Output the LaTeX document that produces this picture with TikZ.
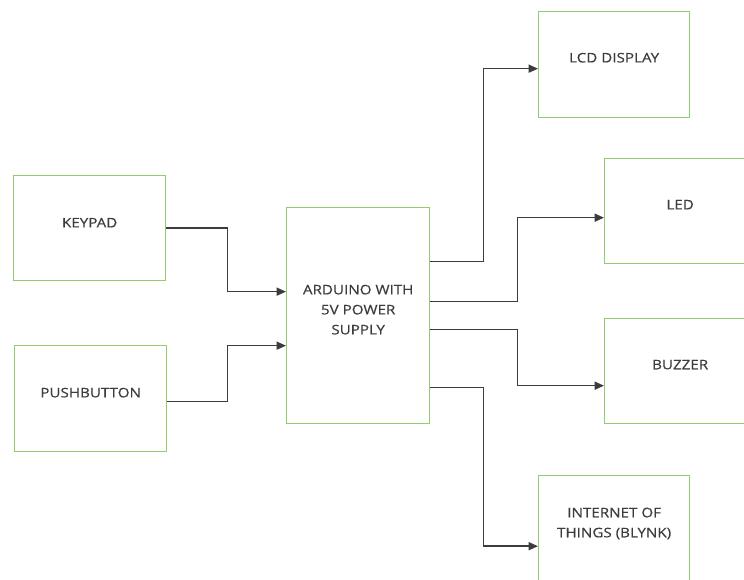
\documentclass[tikz,border=0pt]{standalone}
\usepackage{fontspec}
\setmainfont{Open Sans}[FakeStretch=1.15,FakeBold=0.4]
\usetikzlibrary{arrows.meta}
\definecolor{boxgreen}{RGB}{146,204,108}
\definecolor{txtgray}{RGB}{60,60,60}
\definecolor{linegray}{RGB}{60,60,60}
\tikzset{
  blk/.style={draw=boxgreen, line width=1pt, rectangle, inner sep=0pt, anchor=north west},
  txt/.style={text=txtgray, font=\fontsize{9.9pt}{15pt}\selectfont, align=center, inner sep=0pt},
  conn/.style={draw=linegray, line width=1.1pt, -{Triangle[length=7pt,width=6pt]}},
}
\begin{document}
\begin{tikzpicture}[x=0.75pt,y=-0.75pt]
\useasboundingbox (0,0) rectangle (744,580);
\clip (0,0) rectangle (744,580);
% boxes
\node[blk, minimum width=152*0.75pt, minimum height=105*0.75pt] (keypad) at (13,175) {};
\node[blk, minimum width=152*0.75pt, minimum height=106*0.75pt] (push) at (14,345) {};
\node[blk, minimum width=143*0.75pt, minimum height=216*0.75pt] (ard) at (286,207) {};
\node[blk, minimum width=151*0.75pt, minimum height=106*0.75pt] (lcd) at (538,11) {};
\node[blk, minimum width=151*0.75pt, minimum height=105*0.75pt] (led) at (604,158) {};
\node[blk, minimum width=151*0.75pt, minimum height=105*0.75pt] (buzz) at (604,318) {};
\node[blk, minimum width=151*0.75pt, minimum height=108*0.75pt] (iot) at (538,475) {};
% texts
\node[txt] (tkeypad) at ([yshift=4.1pt]keypad.center) {KEYPAD};
\node[txt] (tpush) at ([yshift=4.5pt]push.center) {PUSHBUTTON};
\node[txt] (tard) at ([yshift=4.5pt]ard.center) {ARDUINO WITH\\5V POWER\\SUPPLY};
\node[txt] (tlcd) at ([yshift=5.2pt]lcd.center) {LCD DISPLAY};
\node[txt] (tled) at ([yshift=4.9pt]led.center) {LED};
\node[txt] (tbuzz) at ([yshift=4.9pt]buzz.center) {BUZZER};
\node[txt] (tiot) at ([yshift=4.6pt]iot.center) {INTERNET OF\\THINGS (BLYNK)};
% connectors
\draw[conn] (keypad.east) -- ++(61,0) |- ([yshift=18pt]ard.west);
\draw[conn] ([yshift=-2.2pt]push.east) -- ++(60,0) |- ([yshift=-22.5pt]ard.west);
\draw[conn] ([yshift=40.5pt]ard.east) -- ++(53,0) |- ([yshift=-3pt]lcd.west);
\draw[conn] ([yshift=10.5pt]ard.east) -- ++(87,0) |- ([yshift=-4.9pt]led.west);
\draw[conn] ([yshift=-10.5pt]ard.east) -- ++(87,0) |- ([yshift=-10.9pt]buzz.west);
\draw[conn] ([yshift=-54pt]ard.east) -- ++(53,0) |- ([yshift=-12.4pt]iot.west);
\end{tikzpicture}
\end{document}
